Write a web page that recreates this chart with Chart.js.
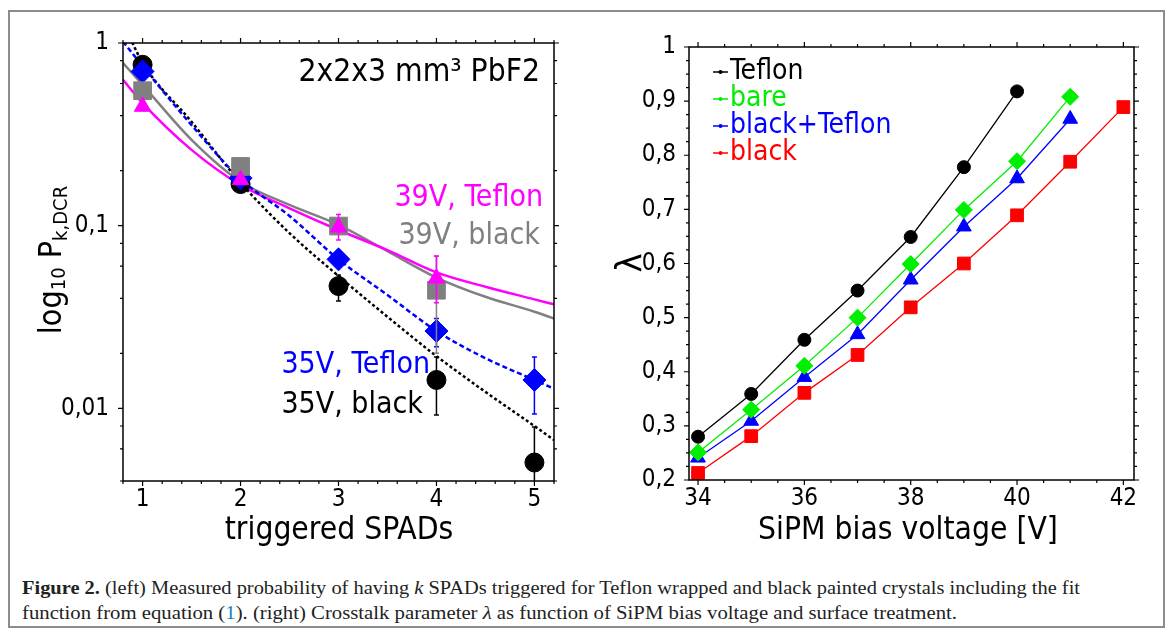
<!DOCTYPE html>
<html>
<head>
<meta charset="utf-8">
<script src="https://cdn.jsdelivr.net/npm/chart.js@4.4.1/dist/chart.umd.min.js"></script>
<style>
    body { margin: 0; width: 1171px; height: 635px; background: #fff; position: relative; overflow: hidden; }
    #frame { position: absolute; left: 8px; top: 10px; width: 1157px; height: 618px; border: 2px solid #8c8c8c; box-sizing: border-box; }
    #left { position: absolute; left: 0; top: 0; }
    #right { position: absolute; left: 585px; top: 0; }
    #caption { position: absolute; left: 22px; top: 576px; font-family: "Liberation Serif", "DejaVu Serif", serif; font-size: 18.5px; line-height: 25px; color: #222; white-space: nowrap; }
    #caption .line { display: block; transform-origin: 0 50%; }
    #caption .ref { color: #1a7fc1; }
</style>
</head>
<body>
<div id="frame"></div>
<canvas id="left" width="585" height="560"></canvas>
<canvas id="right" width="586" height="560"></canvas>
<div id="caption">
    <span class="line" id="cap1"><b>Figure 2.</b> (left) Measured probability of having <i>k</i> SPADs triggered for Teflon wrapped and black painted crystals including the fit</span>
    <span class="line" id="cap2">function from equation (<span class="ref">1</span>). (right) Crosstalk parameter <i>λ</i> as function of SiPM bias voltage and surface treatment.</span>
</div>
<script>
/* ---- left panel: P(k) vs triggered SPADs ---- */
const spadK = [1, 2, 3, 4, 5];
const black35V = [0.76, 0.169, 0.0467, 0.0143, 0.00505];
const black35VErr = [null, null, [0.0387, 0.0537], [0.0092, 0.0191], [0.003, 0.0079]];
const teflon35V = [0.699, 0.182, 0.0654, 0.0265, 0.0143];
const teflon35VErr = [null, null, null, [0.0217, 0.031], [0.0093, 0.0191]];
const black39V = [0.548, 0.211, 0.0995, 0.0443];
const black39VErr = [null, null, null, [0.02, 0.068]];
const teflon39V = [0.449, 0.178, 0.098, 0.0515];
const teflon39VErr = [null, null, [0.0834, 0.115], [0.0378, 0.0682]];

// fit curves at these k positions
const fitK = [0.8, 1, 1.5, 2, 2.5, 3, 3.5, 4, 4.5, 5, 5.2];
const fitBlack35V = [1.3, 0.78, 0.37, 0.172, 0.091, 0.053, 0.0317, 0.0193, 0.0123, 0.008, 0.0067];
const fitTeflon35V = [1.02, 0.747, 0.355, 0.18, 0.113, 0.0654, 0.0417, 0.0265, 0.0188, 0.0143, 0.0128];
const fitBlack39V = [0.777, 0.59, 0.295, 0.174, 0.13, 0.101, 0.0725, 0.052, 0.0408, 0.0338, 0.031];
const fitTeflon39V = [0.629, 0.469, 0.26, 0.167, 0.1245, 0.0947, 0.0735, 0.0555, 0.0463, 0.0395, 0.0371];

const leftXMajor = [1, 2, 3, 4, 5];
const leftXMinor = [0.8, 1.2, 1.4, 1.6, 1.8, 2.2, 2.4, 2.6, 2.8, 3.2, 3.4, 3.6, 3.8, 4.2, 4.4, 4.6, 4.8, 5.2];
const leftYMajor = [0.01, 0.1, 1];
const leftYMinor = [0.004, 0.006, 0.008, 0.02, 0.04, 0.06, 0.08, 0.2, 0.4, 0.6, 0.8];

/* ---- right panel: lambda vs bias voltage ---- */
const biasV = [34, 35, 36, 37, 38, 39, 40, 41, 42];
const lamTeflon = [0.280, 0.359, 0.459, 0.550, 0.649, 0.778, 0.918];
const lamBare = [0.251, 0.330, 0.411, 0.500, 0.599, 0.699, 0.789, 0.908];
const lamBlackTeflon = [0.241, 0.309, 0.390, 0.469, 0.570, 0.668, 0.757, 0.867];
const lamBlack = [0.213, 0.281, 0.361, 0.431, 0.519, 0.600, 0.689, 0.788, 0.889];

const rightXMajor = [34, 36, 38, 40, 42];
const rightXMinor = [34.5, 35, 35.5, 36.5, 37, 37.5, 38.5, 39, 39.5, 40.5, 41, 41.5];
const rightYMajor = [0.2, 0.3, 0.4, 0.5, 0.6, 0.7, 0.8, 0.9, 1];
const rightYMinor = [0.225, 0.25, 0.275, 0.325, 0.35, 0.375, 0.425, 0.45, 0.475, 0.525, 0.55, 0.575,
    0.625, 0.65, 0.675, 0.725, 0.75, 0.775, 0.825, 0.85, 0.875, 0.925, 0.95, 0.975];

const FONT = '"DejaVu Sans Condensed", "DejaVu Sans", sans-serif';

function pts(xs, ys) {
    return ys.map((y, i) => ({ x: xs[i], y }));
}

function commaLabel(v) {
    return String(v).replace(".", ",");
}

// box around the plot area plus outward ticks on all four sides
function frameTicks(xMajor, xMinor, yMajor, yMinor) {
    return {
        id: "frameTicks",
        afterDraw(chart) {
            const { ctx, chartArea: a, scales } = chart;
            ctx.save();
            ctx.strokeStyle = "#000";
            ctx.lineWidth = 1.5;
            ctx.strokeRect(a.left, a.top, a.right - a.left, a.bottom - a.top);
            ctx.lineWidth = 1.2;
            ctx.beginPath();
            const tickX = (vals, len) => vals.forEach((v) => {
                const px = scales.x.getPixelForValue(v);
                ctx.moveTo(px, a.bottom); ctx.lineTo(px, a.bottom + len);
                ctx.moveTo(px, a.top); ctx.lineTo(px, a.top - len);
            });
            const tickY = (vals, len) => vals.forEach((v) => {
                const py = scales.y.getPixelForValue(v);
                ctx.moveTo(a.left, py); ctx.lineTo(a.left - len, py);
                ctx.moveTo(a.right, py); ctx.lineTo(a.right + len, py);
            });
            tickX(xMajor, 5); tickX(xMinor, 3);
            tickY(yMajor, 5); tickY(yMinor, 3);
            ctx.stroke();
            ctx.restore();
        }
    };
}

const errorBars = {
    id: "errorBars",
    afterDatasetDraw(chart, args) {
        const ds = chart.data.datasets[args.index];
        if (!ds.errors) return;
        const { ctx, chartArea: a, scales } = chart;
        ctx.save();
        ctx.beginPath();
        ctx.rect(a.left, a.top, a.right - a.left, a.bottom - a.top);
        ctx.clip();
        ctx.strokeStyle = ds.borderColor;
        ctx.lineWidth = 1.5;
        ds.errors.forEach((e, i) => {
            if (!e) return;
            const px = scales.x.getPixelForValue(ds.data[i].x);
            const lo = scales.y.getPixelForValue(e[0]);
            const hi = scales.y.getPixelForValue(e[1]);
            ctx.beginPath();
            ctx.moveTo(px, lo); ctx.lineTo(px, hi);
            ctx.moveTo(px - 2.5, lo); ctx.lineTo(px + 2.5, lo);
            ctx.moveTo(px - 2.5, hi); ctx.lineTo(px + 2.5, hi);
            ctx.stroke();
        });
        ctx.restore();
    }
};

function drawParts(ctx, parts, cx, cy) {
    let total = 0;
    parts.forEach((p) => { ctx.font = p.font; total += ctx.measureText(p.text).width; });
    let x = cx - total / 2;
    parts.forEach((p) => {
        ctx.font = p.font;
        ctx.fillText(p.text, x, cy + (p.dy || 0));
        x += ctx.measureText(p.text).width;
    });
}

const leftTexts = {
    id: "leftTexts",
    afterDraw(chart) {
        const { ctx } = chart;
        ctx.save();
        ctx.textBaseline = "middle";
        ctx.textAlign = "right";
        ctx.font = `31.5px ${FONT}`;
        ctx.fillStyle = "#000";
        ctx.fillText("2x2x3 mm³ PbF2", 540, 73);
        ctx.font = `30px ${FONT}`;
        ctx.fillStyle = "#ff00ff";
        ctx.fillText("39V, Teflon", 543, 198);
        ctx.fillStyle = "#808080";
        ctx.fillText("39V, black", 540, 236);
        ctx.fillStyle = "#0000ff";
        ctx.fillText("35V, Teflon", 430, 365);
        ctx.fillStyle = "#000";
        ctx.fillText("35V, black", 423, 405);

        // axis titles
        ctx.textAlign = "left";
        ctx.textBaseline = "alphabetic";
        drawParts(ctx, [{ text: "triggered SPADs", font: `31.5px ${FONT}` }], 339, 539);
        ctx.translate(61, 260);
        ctx.rotate(-Math.PI / 2);
        drawParts(ctx, [
            { text: "log", font: `32px ${FONT}` },
            { text: "10", font: `20px ${FONT}`, dy: 4 },
            { text: " P", font: `32px ${FONT}` },
            { text: "k,DCR", font: `20px ${FONT}`, dy: 6 }
        ], 0, 0);
        ctx.restore();
    }
};

const rightTexts = {
    id: "rightTexts",
    afterDraw(chart) {
        const { ctx } = chart;
        ctx.save();
        ctx.fillStyle = "#000";
        ctx.textBaseline = "alphabetic";
        ctx.textAlign = "left";
        drawParts(ctx, [{ text: "SiPM bias voltage [V]", font: `31.5px ${FONT}` }], 323, 539);
        ctx.translate(56, 263);
        ctx.rotate(-Math.PI / 2);
        drawParts(ctx, [{ text: "λ", font: `36px ${FONT}` }], 0, 0);
        ctx.restore();

        // legend inside the plot
        ctx.save();
        ctx.textBaseline = "middle";
        ctx.font = `28px ${FONT}`;
        chart.data.datasets.forEach((ds, i) => {
            const y = 72 + i * 27;
            ctx.strokeStyle = ds.borderColor;
            ctx.fillStyle = ds.borderColor;
            ctx.lineWidth = 1.5;
            ctx.beginPath();
            ctx.moveTo(128, y); ctx.lineTo(143, y);
            ctx.stroke();
            ctx.beginPath();
            ctx.arc(135.5, y, 2, 0, Math.PI * 2);
            ctx.fill();
            ctx.fillText(ds.label, 145, y);
        });
        ctx.restore();
    }
};

function fitLine(label, xs, ys, color, dash, order) {
    return {
        label, data: pts(xs, ys), borderColor: color, backgroundColor: color,
        borderWidth: 2.5, borderDash: dash, pointRadius: 0,
        cubicInterpolationMode: "monotone", fill: false, order
    };
}

function markers(label, xs, ys, color, style, radius, errors, order) {
    return {
        label, data: pts(xs, ys), showLine: false, borderColor: color, backgroundColor: color,
        pointStyle: style, pointRadius: radius, borderWidth: 1, errors, order
    };
}

const tickFont = { family: FONT, size: 24, lineHeight: 1 };

new Chart(document.getElementById("left"), {
    type: "line",
    data: {
        datasets: [
            fitLine("39V, black fit", fitK, fitBlack39V, "#808080", [], 12),
            fitLine("39V, Teflon fit", fitK, fitTeflon39V, "#ff00ff", [], 11),
            fitLine("35V, black fit", fitK, fitBlack35V, "#000000", [3, 2.5], 10),
            fitLine("35V, Teflon fit", fitK, fitTeflon35V, "#0000ff", [5, 3], 9),
            markers("35V, black", spadK, black35V, "#000000", "circle", 9.5, black35VErr, 8),
            markers("35V, Teflon", spadK, teflon35V, "#0000ff", "rectRot", 11.5, teflon35VErr, 7),
            markers("39V, black", spadK, black39V, "#808080", "rect", 12.5, black39VErr, 6),
            markers("39V, Teflon", spadK, teflon39V, "#ff00ff", "triangle", 9.5, teflon39VErr, 5)
        ]
    },
    options: {
        responsive: false,
        animation: false,
        events: [],
        layout: { padding: { left: 0, top: 43, right: 31, bottom: 0 } },
        plugins: { legend: { display: false }, tooltip: { enabled: false } },
        scales: {
            x: {
                type: "linear", min: 0.8, max: 5.2,
                grid: { display: false }, border: { display: false },
                ticks: { font: tickFont, color: "#000", padding: -1, maxRotation: 0, callback: (v) => String(v) },
                afterBuildTicks: (s) => { s.ticks = leftXMajor.map((v) => ({ value: v })); },
                afterFit: (s) => { s.height = 79; }
            },
            y: {
                type: "logarithmic", min: 0.004, max: 1,
                grid: { display: false }, border: { display: false },
                ticks: { font: tickFont, color: "#000", padding: 6, callback: (v) => commaLabel(v) },
                afterBuildTicks: (s) => { s.ticks = leftYMajor.map((v) => ({ value: v })); },
                afterFit: (s) => { s.width = 123; }
            }
        }
    },
    plugins: [errorBars, frameTicks(leftXMajor, leftXMinor, leftYMajor, leftYMinor), leftTexts]
});

function lamSeries(label, ys, color, style, radius) {
    return {
        label, data: pts(biasV, ys), borderColor: color, backgroundColor: color,
        borderWidth: 1.3, pointStyle: style, pointRadius: radius, pointBorderWidth: 1, tension: 0, fill: false
    };
}

new Chart(document.getElementById("right"), {
    type: "line",
    data: {
        datasets: [
            lamSeries("Teflon", lamTeflon, "#000000", "circle", 6.5),
            lamSeries("bare", lamBare, "#00ee00", "rectRot", 8.5),
            lamSeries("black+Teflon", lamBlackTeflon, "#0000ff", "triangle", 8.5),
            lamSeries("black", lamBlack, "#ff0000", "rect", 9)
        ]
    },
    options: {
        responsive: false,
        animation: false,
        events: [],
        layout: { padding: { left: 0, top: 47, right: 37, bottom: 0 } },
        plugins: { legend: { display: false }, tooltip: { enabled: false } },
        scales: {
            x: {
                type: "linear", min: 33.83, max: 42.2,
                grid: { display: false }, border: { display: false },
                ticks: { font: tickFont, color: "#000", padding: -1, maxRotation: 0, callback: (v) => String(v) },
                afterBuildTicks: (s) => { s.ticks = rightXMajor.map((v) => ({ value: v })); },
                afterFit: (s) => { s.height = 80; }
            },
            y: {
                type: "linear", min: 0.2, max: 1,
                grid: { display: false }, border: { display: false },
                ticks: { font: tickFont, color: "#000", padding: 5, callback: (v) => commaLabel(v) },
                afterBuildTicks: (s) => { s.ticks = rightYMajor.map((v) => ({ value: v })); },
                afterFit: (s) => { s.width = 104; }
            }
        }
    },
    plugins: [frameTicks(rightXMajor, rightXMinor, rightYMajor, rightYMinor), rightTexts]
});

// squeeze caption lines to the printed widths
[["cap1", 1058], ["cap2", 935]].forEach(([id, w]) => {
    const el = document.getElementById(id);
    el.style.display = "inline-block";
    const k = w / el.getBoundingClientRect().width;
    el.style.display = "block";
    el.style.transform = `scaleX(${k})`;
});
</script>
</body>
</html>
